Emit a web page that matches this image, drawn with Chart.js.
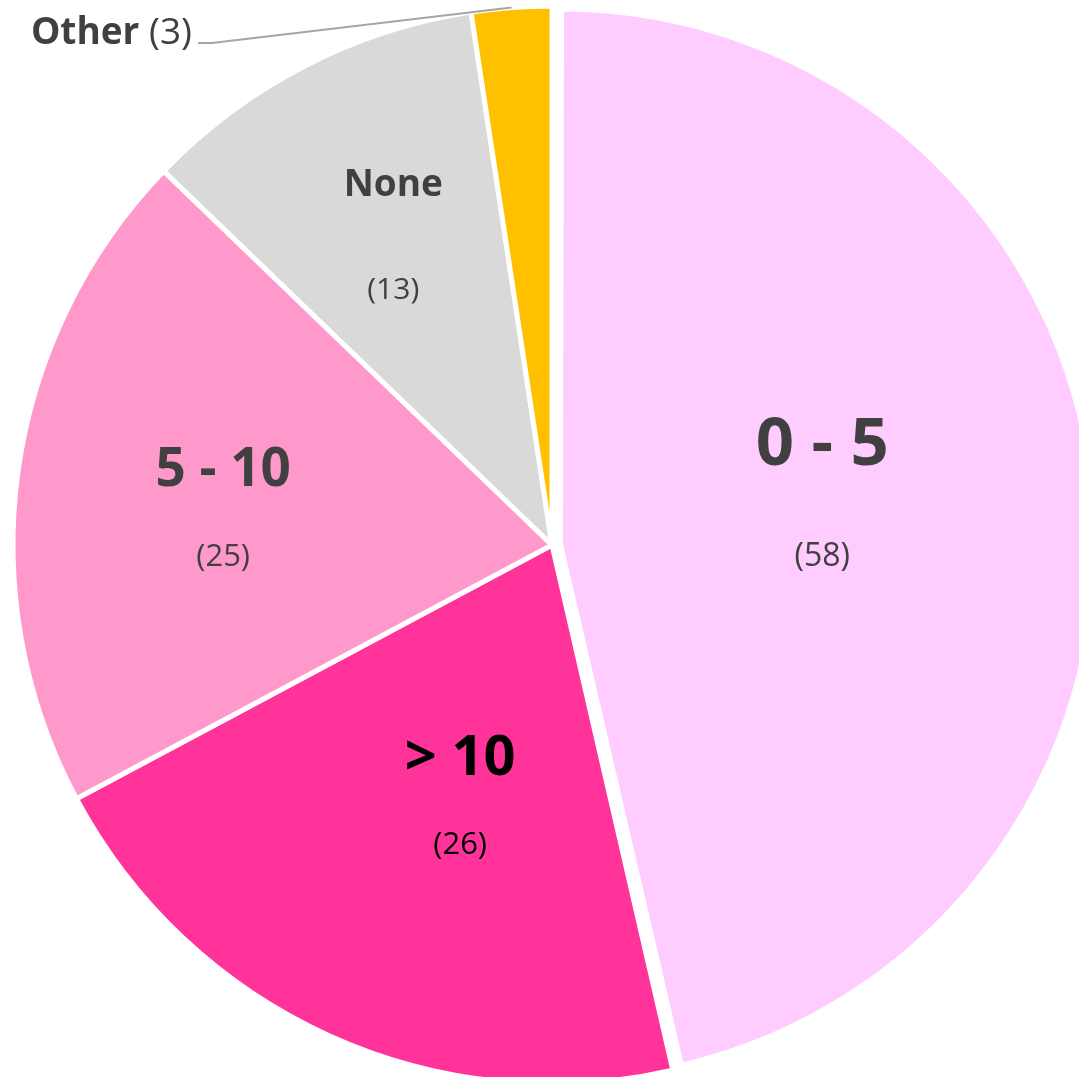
<!DOCTYPE html>
<html>
<head>
<meta charset="utf-8">
<script src="https://cdn.jsdelivr.net/npm/chart.js@4/dist/chart.umd.min.js"></script>
<style>
  html, body { margin: 0; padding: 0; background: #ffffff; overflow: hidden; }
  #wrap { position: absolute; left: 0; top: 0; width: 1104px; height: 1090px; }
</style>
</head>
<body>
<div id="wrap"><canvas id="c" width="1104" height="1090"></canvas></div>
<script>
// ---- data ----
const categories = ['0 - 5', '> 10', '5 - 10', 'None', 'Other'];
const counts = [58, 26, 25, 13, 3];
const sliceColors = ['#FFCCFF', '#FF3399', '#FF99CC', '#D9D9D9', '#FFC000'];

// ---- label layout (style only) ----
const labelStyle = [
  { r: 0.497, da: -3.5, half: 57, tSize: 67, vSize: 32, color: '#404040' },
  { r: 0.505, da: -4.6, half: 44, tSize: 56, vSize: 31, color: '#000000' },
  { r: 0.618, da: -2.0, half: 44, tSize: 53, vSize: 31, color: '#404040' },
  { r: 0.650, da: 0.2,  half: 53, tSize: 37, vSize: 30, color: '#404040' },
  null
];
const FONT = '"Open Sans", "DejaVu Sans", sans-serif';
const EXPLODE = [34, 0, 0, 0, 0];   // Chart.js translates by offset/4

// keep the exploded slice slightly smaller, as in the original
const explodeFix = {
  id: 'explodeFix',
  afterDatasetUpdate(chart, args) {
    const meta = chart.getDatasetMeta(args.index);
    meta.data.forEach((arc, i) => {
      const off = EXPLODE[i] / 4;
      if (!off) return;
      const circ = arc.endAngle - arc.startAngle;
      const fix = 1 - Math.sin(Math.min(Math.PI, circ));
      arc.outerRadius = arc.outerRadius - off * fix - 4;
    });
  }
};

const labelPlugin = {
  id: 'sliceLabels',
  afterDatasetsDraw(chart) {
    const ctx = chart.ctx;
    const meta = chart.getDatasetMeta(0);
    const ds = chart.data.datasets[0];
    meta.data.forEach((arc, i) => {
      const p = arc.getProps(['x', 'y', 'startAngle', 'endAngle', 'outerRadius'], true);
      const off = EXPLODE[i] / 4;
      const mid = (p.startAngle + p.endAngle) / 2;
      const cx = p.x + Math.cos(mid) * off;
      const cy = p.y + Math.sin(mid) * off;
      const st = labelStyle[i];
      ctx.save();
      if (st) {
        const a = mid + st.da * Math.PI / 180;
        const R = 535 * st.r;
        const lx = cx + Math.cos(a) * R;
        const ly = cy + Math.sin(a) * R;
        ctx.fillStyle = st.color;
        ctx.textAlign = 'center';
        ctx.textBaseline = 'alphabetic';
        ctx.font = 'bold ' + st.tSize + 'px ' + FONT;
        ctx.fillText(chart.data.labels[i], lx, ly - st.half + 0.357 * st.tSize);
        ctx.font = st.vSize + 'px ' + FONT;
        ctx.fillText('(' + ds.data[i] + ')', lx, ly + st.half + 0.357 * st.vSize);
      } else {
        // outside label with leader line
        const ex = cx + Math.cos(mid) * (p.outerRadius - 2);
        const ey = cy + Math.sin(mid) * (p.outerRadius - 2);
        const elbowX = 212, elbowY = 43, endX = 198;
        ctx.strokeStyle = '#A6A6A6';
        ctx.lineWidth = 2;
        ctx.beginPath();
        ctx.moveTo(ex, ey - 2);
        ctx.lineTo(elbowX, elbowY);
        ctx.lineTo(endX, elbowY);
        ctx.stroke();
        const bold = chart.data.labels[i];
        const reg = ' (' + ds.data[i] + ')';
        const size = 37;
        ctx.textBaseline = 'alphabetic';
        ctx.textAlign = 'left';
        ctx.fillStyle = '#404040';
        ctx.font = size + 'px ' + FONT;
        const wReg = ctx.measureText(reg).width;
        ctx.font = 'bold ' + size + 'px ' + FONT;
        const wBold = ctx.measureText(bold).width;
        const right = 192;
        const x0 = right - wReg - wBold;
        const base = 44;
        ctx.fillText(bold, x0, base);
        ctx.font = size + 'px ' + FONT;
        ctx.fillText(reg, x0 + wBold, base);
      }
      ctx.restore();
    });
  }
};

new Chart(document.getElementById('c'), {
  type: 'pie',
  data: {
    labels: categories,
    datasets: [{
      data: counts,
      backgroundColor: sliceColors,
      borderColor: '#ffffff',
      borderWidth: 5,
      offset: EXPLODE,
      hoverOffset: 0
    }]
  },
  options: {
    responsive: false,
    animation: false,
    devicePixelRatio: 1,
    radius: 539,
    layout: { padding: 0 },
    plugins: {
      legend: { display: false },
      tooltip: { enabled: false }
    },
    events: []
  },
  plugins: [explodeFix, labelPlugin]
});
</script>
</body>
</html>
